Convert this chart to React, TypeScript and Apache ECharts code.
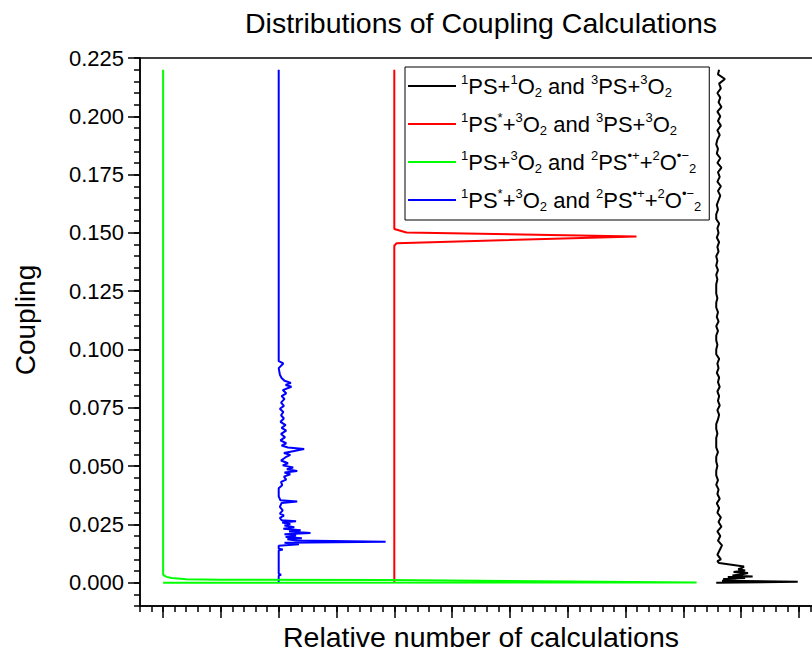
import React, { useEffect, useRef } from 'react';
import * as echarts from 'echarts';

const FONT = '"Liberation Sans", Arial, sans-serif';

const TITLE = 'Distributions of Coupling Calculations';
const X_NAME = 'Relative number of calculations';
const Y_NAME = 'Coupling';

const yTickValues = [0, 0.025, 0.05, 0.075, 0.1, 0.125, 0.15, 0.175, 0.2, 0.225];
const xMajorTicks = [0, 1, 2, 3, 4, 5, 6, 7, 8, 9, 10, 11];

const seriesNames = [
  '1PS+1O2 and 3PS+3O2',
  '1PS*+3O2 and 3PS+3O2',
  '1PS+3O2 and 2PS•+ +2O•−2',
  '1PS*+3O2 and 2PS•+ +2O•−2',
];
const legendRich = [
  '{sup|1}{n|PS+}{sup|1}{n|O}{sub|2}{n| and }{sup|3}{n|PS+}{sup|3}{n|O}{sub|2}',
  '{sup|1}{n|PS}{sup|*}{n|+}{sup|3}{n|O}{sub|2}{n| and }{sup|3}{n|PS+}{sup|3}{n|O}{sub|2}',
  '{sup|1}{n|PS+}{sup|3}{n|O}{sub|2}{n| and }{sup|2}{n|PS}{sup|•+}{n|+}{sup|2}{n|O}{sup|•−}{sub|2}',
  '{sup|1}{n|PS}{sup|*}{n|+}{sup|3}{n|O}{sub|2}{n| and }{sup|2}{n|PS}{sup|•+}{n|+}{sup|2}{n|O}{sup|•−}{sub|2}',
];
const seriesColors = ['#000000', '#ff0000', '#00ff00', '#0000ff'];
const seriesOffsets = [9.57, 4, 0, 2];

// black: 1PS+1O2 and 3PS+3O2
const blackCoupling = [
  0.0, 0.0004, 0.0008, 0.0012, 0.0016, 0.002, 0.0024, 0.0027, 0.0031, 0.0036, 0.0041, 0.0046,
  0.0052, 0.0058, 0.0064, 0.0069, 0.0084, 0.0092,
  0.01, 0.012, 0.014, 0.016, 0.018, 0.02, 0.022, 0.024, 0.026, 0.028, 0.03, 0.032, 0.034, 0.036,
  0.038, 0.04, 0.042, 0.044, 0.046, 0.048, 0.05, 0.052, 0.054, 0.056, 0.058, 0.06, 0.062, 0.064,
  0.066, 0.068, 0.07, 0.072, 0.074, 0.076, 0.078, 0.08, 0.082, 0.084, 0.086, 0.088, 0.09, 0.092,
  0.094, 0.096, 0.098, 0.1, 0.102, 0.104, 0.106, 0.108, 0.11, 0.112, 0.114, 0.116, 0.118, 0.12,
  0.122, 0.124, 0.126, 0.128, 0.13, 0.132, 0.134, 0.136, 0.138, 0.14, 0.142, 0.144, 0.146, 0.148,
  0.15, 0.152, 0.154, 0.156, 0.158, 0.16, 0.162, 0.164, 0.166, 0.168, 0.17, 0.172, 0.174, 0.176,
  0.178, 0.18, 0.182, 0.184, 0.186, 0.188, 0.19, 0.192, 0.194, 0.196, 0.198, 0.2, 0.202, 0.204,
  0.206, 0.208, 0.21, 0.212, 0.214, 0.216, 0.218, 0.22,
];
const blackCount = [
  0, 1.41, 0.1, 0.35, 0.12, 0.5, 0.2, 0.63, 0.28, 0.45, 0.55, 0.3,
  0.5, 0.38, 0.45, 0.48, 0.05, 0.02,
  0.08, 0.02, 0.06, 0.1, 0.03, 0.07, 0.02, 0.09, 0.04, 0.08, 0.02, 0.05, 0.01, 0.06,
  0.02, 0.04, 0.0, 0.03, 0.0, 0.0, 0.02, 0.0, 0.0, 0.03, 0.0, 0.0, 0.0, 0.02,
  0.0, 0.0, 0.03, 0.05, 0.02, 0.06, 0.03, 0.05, 0.02, 0.06, 0.03, 0.05, 0.01, 0.04,
  0.02, 0.05, 0.0, 0.0, 0.02, 0.0, 0.0, 0.03, 0.0, 0.04, 0.01, 0.03, 0.0, 0.0,
  0.02, 0.0, 0.0, 0.0, 0.02, 0.0, 0.03, 0.0, 0.02, 0.0, 0.04, 0.02, 0.05, 0.01,
  0.04, 0.02, 0.05, 0.0, 0.0, 0.03, 0.01, 0.04, 0.07, 0.03, 0.08, 0.02, 0.06, 0.03,
  0.09, 0.02, 0.07, 0.01, 0.03, 0.0, 0.02, 0.06, 0.02, 0.08, 0.03, 0.07, 0.02, 0.09,
  0.04, 0.07, 0.02, 0.08, 0.05, 0.15, 0.03, 0.05,
];

// red: 1PS*+3O2 and 3PS+3O2
const redCoupling = [0.0, 0.1445, 0.1456, 0.1485, 0.1502, 0.1517, 0.22];
const redCount = [0, 0, 0.04, 4.19, 0.21, 0, 0];

// green: 1PS+3O2 and 2PS•+ +2O•−2
const greenCoupling = [0.0, 0.0001, 0.0012, 0.0013, 0.0015, 0.002, 0.0025, 0.003, 0.0035, 0.22];
const greenCount = [0, 9.23, 3.9, 1.0, 0.4, 0.15, 0.06, 0.02, 0, 0];

// blue: 1PS*+3O2 and 2PS•+ +2O•−2
const blueCoupling = [
  0.0, 0.003, 0.0034, 0.0038, 0.0138, 0.0142, 0.0146, 0.0158, 0.0165, 0.0171, 0.0176, 0.0181,
  0.0186, 0.0191, 0.0196, 0.0202, 0.0208, 0.0213, 0.0219, 0.0225, 0.0231, 0.0238, 0.0245, 0.0252,
  0.0258, 0.0263, 0.0268, 0.0278, 0.0288, 0.0296, 0.031, 0.0325, 0.0342, 0.0348, 0.0353, 0.037,
  0.0405, 0.0418, 0.0432, 0.0442, 0.0455, 0.0465, 0.0472, 0.0479, 0.0486, 0.0494, 0.0503, 0.0512,
  0.0524, 0.0538, 0.0548, 0.0556, 0.0565, 0.0573, 0.058, 0.0588, 0.0598, 0.061, 0.0624, 0.0638,
  0.0652, 0.0664, 0.0676, 0.069, 0.0704, 0.0718, 0.0732, 0.0746, 0.0758, 0.0772, 0.0788, 0.08,
  0.0812, 0.0826, 0.084, 0.0848, 0.0857, 0.0866, 0.0878, 0.0892, 0.092, 0.094, 0.095, 0.22,
];
const blueCount = [
  0, 0, 0.04, 0, 0, 0.07, 0, 0, 0.35, 0.1, 1.85, 0.3,
  0.15, 0.4, 0.12, 0.3, 0.1, 0.55, 0.18, 0.38, 0.08, 0.27, 0.1, 0.2,
  0.06, 0.3, 0.05, 0.02, 0.09, 0.02, 0.07, 0.02, 0.05, 0.32, 0.03, 0,
  0, 0.06, 0.04, 0.13, 0.09, 0.2, 0.1, 0.32, 0.14, 0.25, 0.07, 0.16,
  0.04, 0.12, 0.2, 0.09, 0.27, 0.44, 0.16, 0.05, 0.13, 0.03, 0.11, 0.04,
  0.13, 0.05, 0.12, 0.03, 0.09, 0.04, 0.08, 0.02, 0.09, 0.04, 0.1, 0.05,
  0.13, 0.07, 0.22, 0.12, 0.21, 0.1, 0.05, 0.02, 0, 0.08, 0, 0,
];

const couplings = [blackCoupling, redCoupling, greenCoupling, blueCoupling];
const counts = [blackCount, redCount, greenCount, blueCount];
const drawOrder = [0, 1, 3, 2];

export default function App() {
  const ref = useRef<HTMLDivElement>(null);
  useEffect(() => {
    if (!ref.current) return;
    const chart = echarts.init(ref.current, null, { renderer: 'svg' });
    const axisLineStyle = { color: '#000', width: 1.5 };
    const series = drawOrder.map((i) => ({
      name: seriesNames[i],
      type: 'line',
      xAxisIndex: 0,
      yAxisIndex: 0,
      symbol: 'none',
      showSymbol: false,
      silent: true,
      clip: true,
      lineStyle: { color: seriesColors[i], width: 2 },
      itemStyle: { color: seriesColors[i] },
      data: couplings[i].map((c, k) => [seriesOffsets[i] + counts[i][k], c]),
    }));
    const richMap: Record<string, string> = {};
    seriesNames.forEach((n, i) => (richMap[n] = legendRich[i]));
    chart.setOption({
      animation: false,
      backgroundColor: '#ffffff',
      textStyle: { fontFamily: FONT },
      title: {
        text: TITLE,
        left: 476,
        top: 3,
        textAlign: 'center',
        textStyle: { fontSize: 28.5, fontWeight: 'normal', color: '#000', fontFamily: FONT },
      },
      grid: {
        left: 140,
        top: 58,
        width: 682,
        bottom: 52,
        show: true,
        borderColor: '#000',
        borderWidth: 1.5,
        containLabel: false,
        outerBoundsMode: 'none',
      },
      legend: {
        orient: 'vertical',
        left: 405,
        top: 67,
        padding: [6, 8, 7, 3],
        itemGap: 12,
        itemWidth: 48,
        itemHeight: 2,
        icon: 'rect',
        borderColor: '#000',
        borderWidth: 1,
        backgroundColor: '#fff',
        selectedMode: false,
        data: seriesNames,
        formatter: (name: string) => richMap[name],
        textStyle: {
          color: '#000',
          fontFamily: FONT,
          fontSize: 22,
          rich: {
            n: { fontSize: 22, lineHeight: 26, fontFamily: FONT, color: '#000' },
            sup: { fontSize: 13, verticalAlign: 'top', fontFamily: FONT, color: '#000' },
            sub: { fontSize: 13, verticalAlign: 'bottom', lineHeight: 6, fontFamily: FONT, color: '#000' },
          },
        },
      },
      xAxis: [
        {
          type: 'value',
          min: -0.4,
          max: 11.4,
          interval: 0.2,
          position: 'bottom',
          axisLine: { show: true, onZero: false, lineStyle: axisLineStyle },
          axisTick: { show: true, length: 6, lineStyle: axisLineStyle },
          axisLabel: { show: false },
          splitLine: { show: false },
          name: X_NAME,
          nameLocation: 'middle',
          nameGap: 16,
          nameTextStyle: { fontSize: 28.5, color: '#000', fontFamily: FONT },
        },
        {
          type: 'value',
          min: -0.4,
          max: 11.4,
          position: 'bottom',
          axisLine: { show: false, onZero: false },
          axisTick: { show: true, length: 12, customValues: xMajorTicks, lineStyle: axisLineStyle },
          axisLabel: { show: false },
          splitLine: { show: false },
        },
      ],
      yAxis: [
        {
          type: 'value',
          min: -0.01,
          max: 0.225,
          position: 'left',
          axisLine: { show: true, onZero: false, lineStyle: axisLineStyle },
          axisTick: { show: true, length: 12, customValues: yTickValues, lineStyle: axisLineStyle },
          axisLabel: {
            show: true,
            customValues: yTickValues,
            formatter: (v: number) => v.toFixed(3),
            fontSize: 22,
            color: '#000',
            fontFamily: FONT,
            margin: 16,
          },
          splitLine: { show: false },
        },
        {
          type: 'value',
          min: -0.01,
          max: 0.225,
          interval: 0.005,
          position: 'left',
          axisLine: { show: false, onZero: false },
          axisTick: { show: true, length: 6, lineStyle: axisLineStyle },
          axisLabel: { show: false },
          splitLine: { show: false },
        },
      ],
      graphic: [
        {
          type: 'text',
          x: 25,
          y: 320,
          rotation: Math.PI / 2,
          style: {
            text: Y_NAME,
            fontSize: 28,
            fontFamily: FONT,
            fill: '#000',
            align: 'center',
            verticalAlign: 'middle',
          },
        },
      ],
      series,
    });
    return () => chart.dispose();
  }, []);
  return (
    <div
      ref={ref}
      style={{ position: 'absolute', left: 0, top: 0, width: 812, height: 658, background: '#fff' }}
    />
  );
}
